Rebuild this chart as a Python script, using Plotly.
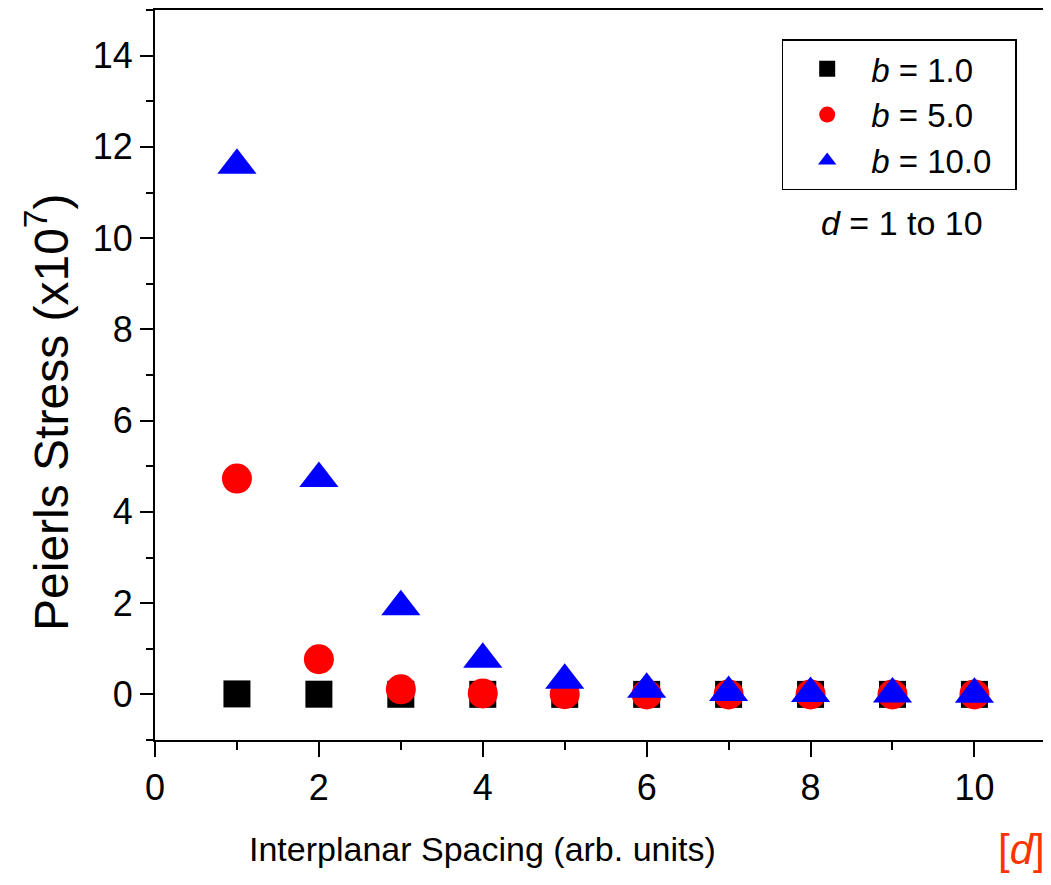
import plotly.graph_objects as go

d_values = [1, 2, 3, 4, 5, 6, 7, 8, 9, 10]
stress_b1 = [0.01, 0.004, 0.002, 0.001, 0.0, 0.0, 0.0, 0.0, 0.0, 0.0]
stress_b5 = [4.73, 0.77, 0.11, 0.02, 0.005, 0.0, 0.0, 0.0, 0.0, 0.0]
stress_b10 = [11.6, 4.73, 1.92, 0.77, 0.31, 0.11, 0.04, 0.02, 0.01, 0.005]
series_names = ["<i>b</i> = 1.0", "<i>b</i> = 5.0", "<i>b</i> = 10.0&nbsp;&nbsp;"]

FONT = "Liberation Sans, Arial, sans-serif"

fig = go.Figure()
fig.add_trace(go.Scatter(x=d_values, y=stress_b1, mode="markers", name=series_names[0],
                         marker=dict(symbol="square", size=27, color="#000000",
                                     line=dict(width=0))))
fig.add_trace(go.Scatter(x=d_values, y=stress_b5, mode="markers", name=series_names[1],
                         marker=dict(symbol="circle", size=30, color="#FF0000",
                                     line=dict(width=0))))
fig.add_trace(go.Scatter(x=d_values, y=stress_b10, mode="markers", name=series_names[2],
                         marker=dict(symbol="triangle-up", size=34, color="#0000FF",
                                     line=dict(width=0))))

axis_common = dict(
    showgrid=False, zeroline=False, showline=True, linecolor="black", linewidth=2,
    mirror=True, ticks="outside", tickwidth=2, tickcolor="black",
    tickfont=dict(family=FONT, size=36, color="black"),
)

fig.update_xaxes(range=[0, 10.91], tick0=0, dtick=2, ticklen=15,
                 minor=dict(dtick=1, ticklen=8, tickwidth=2, ticks="outside", tickcolor="black"),
                 **axis_common)
fig.update_yaxes(range=[-1, 15], tick0=0, dtick=2, ticklen=13,
                 minor=dict(dtick=1, ticklen=7, tickwidth=2, ticks="outside", tickcolor="black"),
                 **axis_common)

fig.update_layout(
    width=1043, height=877,
    margin=dict(l=147, r=0, t=0, b=145),
    paper_bgcolor="white", plot_bgcolor="white",
    font=dict(family=FONT, color="black"),
    showlegend=True,
    legend=dict(x=0.701, y=0.960, xanchor="left", yanchor="top",
                bordercolor="black", borderwidth=1.5, bgcolor="white",
                font=dict(family=FONT, size=33, color="black"),
                itemwidth=78, tracegroupgap=0),
    annotations=[
        dict(text="Interplanar Spacing (arb. units)", xref="paper", yref="paper",
             x=0.366, y=-0.150, xanchor="center", yanchor="middle", showarrow=False,
             font=dict(family=FONT, size=34, color="black")),
        dict(text="[<i>d</i>]", xref="paper", yref="paper",
             x=0.941, y=-0.150, xanchor="left", yanchor="middle", showarrow=False,
             font=dict(family=FONT, size=42, color="#FF3300")),
        dict(text="Peierls Stress (x10<sup>7</sup>)", xref="paper", yref="paper",
             x=-0.120, y=0.449, xanchor="center", yanchor="middle", showarrow=False,
             textangle=-90, font=dict(family=FONT, size=48, color="black")),
        dict(text="<i>d</i> = 1 to 10", xref="paper", yref="paper",
             x=0.836, y=0.708, xanchor="center", yanchor="middle", showarrow=False,
             font=dict(family=FONT, size=34, color="black")),
    ],
)

fig.write_html("out.html")
